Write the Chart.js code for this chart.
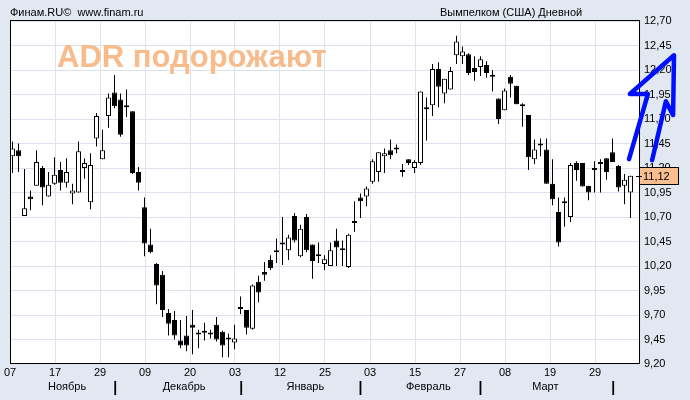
<!DOCTYPE html>
<html lang="ru">
<head>
  <meta charset="UTF-8" />
  <title>Вымпелком (США) Дневной</title>

  <!-- Chart.js -->
  <script src="https://cdn.jsdelivr.net/npm/chart.js"></script>

  <style>
    html, body {
      margin: 0;
      padding: 0;
      background-color: #e1e8f2;
    }
  </style>
</head>
<body>
  <canvas id="candleChart" width="690" height="400"></canvas>

  <script>
    // =========================================================================
    // Data: daily candles (open / high / low / close), one entry per session
    // =========================================================================
    const opens = [
      11.32, 11.38, 10.71, 10.91, 11.02, 11.20, 10.91, 11.04, 11.18, 11.05,
      10.94, 10.95, 11.20, 10.85, 11.50, 11.29, 11.73, 11.97, 11.90, 11.83,
      11.78, 11.16, 10.80, 10.42, 10.22, 10.11, 9.72, 9.65, 9.44, 9.49,
      9.60, 9.50, 9.53, 9.51, 9.60, 9.53, 9.46, 9.42, 9.76, 9.75,
      9.56, 10.04, 10.14, 10.26, 10.35, 10.44, 10.36, 10.71, 10.30, 10.70,
      10.42, 10.32, 10.22, 10.20, 10.46, 10.36, 10.19, 10.64, 10.90, 10.91,
      11.06, 11.16, 11.32, 11.38, 11.39, 11.16, 11.29, 11.20, 11.25, 11.81,
      11.84, 12.21, 11.96, 12.00, 12.35, 12.34, 12.36, 12.22, 12.23, 12.25,
      12.13, 11.91, 11.79, 12.13, 12.04, 11.85, 11.74, 11.29, 11.45, 11.39,
      11.04, 10.75, 10.84, 10.70, 11.25, 11.25, 11.02, 11.18, 11.24, 11.30,
      11.36, 11.22, 11.02, 10.95
    ];
    const highs = [
      11.47, 11.45, 11.19, 10.97, 11.38, 11.22, 11.16, 11.31, 11.26, 11.30,
      11.04, 11.47, 11.30, 11.35, 11.76, 11.59, 11.96, 12.15, 11.96, 12.00,
      11.78, 11.21, 10.90, 10.58, 10.23, 10.15, 9.76, 9.74, 9.65, 9.69,
      9.75, 9.55, 9.62, 9.55, 9.68, 9.54, 9.51, 9.60, 9.89, 9.75,
      10.01, 10.10, 10.24, 10.31, 10.48, 10.70, 10.52, 10.74, 10.62, 10.73,
      10.42, 10.44, 10.31, 10.44, 10.58, 10.46, 10.53, 10.86, 10.94, 11.01,
      11.29, 11.36, 11.40, 11.49, 11.44, 11.24, 11.29, 11.28, 11.98, 11.92,
      12.26, 12.28, 12.11, 12.23, 12.55, 12.44, 12.37, 12.34, 12.34, 12.29,
      12.20, 11.91, 12.01, 12.15, 12.04, 11.86, 11.74, 11.49, 11.50, 11.50,
      11.29, 10.90, 10.90, 11.25, 11.27, 11.25, 11.02, 11.27, 11.29, 11.30,
      11.50, 11.23, 11.14, 11.12
    ];
    const lows = [
      11.15, 11.16, 10.71, 10.77, 11.02, 10.82, 10.91, 11.03, 10.97, 11.00,
      10.83, 10.95, 11.09, 10.78, 11.42, 11.29, 11.61, 11.81, 11.52, 11.72,
      11.14, 10.97, 10.30, 10.33, 9.81, 9.68, 9.49, 9.45, 9.36, 9.33,
      9.30, 9.36, 9.44, 9.46, 9.43, 9.27, 9.27, 9.35, 9.71, 9.50,
      9.55, 9.83, 10.05, 10.16, 10.23, 10.21, 10.26, 10.44, 10.29, 10.34,
      10.07, 10.23, 10.16, 10.20, 10.20, 10.20, 10.18, 10.55, 10.69, 10.81,
      11.04, 11.06, 11.15, 11.29, 11.35, 11.11, 11.23, 11.15, 11.23, 11.48,
      11.73, 11.82, 11.86, 12.00, 12.26, 12.26, 12.15, 12.09, 12.14, 12.12,
      11.98, 11.65, 11.79, 11.92, 11.85, 11.62, 11.18, 11.24, 11.32, 11.04,
      10.82, 10.40, 10.60, 10.65, 11.07, 11.01, 10.87, 10.95, 10.95, 11.08,
      11.26, 10.96, 10.83, 10.69
    ];
    const closes = [
      11.40, 11.32, 10.79, 10.88, 11.26, 11.00, 11.03, 11.13, 11.05, 11.16,
      10.97, 11.37, 11.25, 11.23, 11.73, 11.38, 11.92, 11.83, 11.54, 11.82,
      11.15, 11.05, 10.43, 10.34, 10.00, 9.75, 9.61, 9.49, 9.39, 9.39,
      9.57, 9.50, 9.52, 9.50, 9.45, 9.39, 9.45, 9.46, 9.78, 9.57,
      10.00, 9.93, 10.11, 10.18, 10.34, 10.42, 10.49, 10.46, 10.58, 10.36,
      10.25, 10.30, 10.27, 10.36, 10.39, 10.36, 10.52, 10.66, 10.86, 10.99,
      11.27, 11.36, 11.35, 11.33, 11.39, 11.16, 11.25, 11.26, 11.98, 11.80,
      12.21, 12.03, 12.11, 12.19, 12.49, 12.39, 12.17, 12.18, 12.31, 12.17,
      12.13, 11.70, 11.99, 12.06, 11.85, 11.83, 11.31, 11.39, 11.43, 11.04,
      10.88, 10.44, 10.86, 11.23, 11.18, 11.01, 10.95, 11.20, 11.26, 11.16,
      11.26, 11.00, 11.08, 11.12
    ];

    // Date labels under the vertical grid lines
    const dateLabels = ['07', '17', '29', '09', '20', '03', '12', '25', '03', '15', '27', '08', '19', '29'];

    // Month row (positions in candle-index units)
    const monthLabels  = ['Ноябрь', 'Декабрь', 'Январь', 'Февраль', 'Март'];
    const monthCenters = [9.1, 28.6, 48.8, 69.3, 88.8];
    const monthBreaks  = [17.1, 38.1, 58.0, 78.0, 100.1];

    // Hand-drawn blue arrow, [candle index, price]
    const arrowPoints = [
      [102.75, 11.29], [105.9, 11.955], [102.9, 11.955], [110.25, 12.35],
      [110.1, 11.74], [108.9, 11.88], [106.6, 11.28]
    ];

    // =========================================================================
    // Layout constants
    // =========================================================================
    const X_MIN = -2.5 / 6;        // first candle sits 2.5px inside the frame
    const X_MAX = X_MIN + 105;
    const GRID_STEP = 7.5;         // one vertical grid line every 7.5 sessions
    const FONT = '"Liberation Sans", Arial, sans-serif';
    const GRID_COLOR = '#dde3ee';
    const fmt = v => v.toFixed(2).replace('.', ',');

    const candles = opens.map((o, i) => ({ x: i, y: [o, closes[i]] }));
    const wicks = lows.map((l, i) => ({ x: i, y: [l, highs[i]] }));
    const bodyColors = opens.map((o, i) => (closes[i] > o ? '#ffffff' : '#000000'));

    // =========================================================================
    // Decorations: background, headline, frame, last price box
    // =========================================================================
    const decorPlugin = {
      id: 'decor',
      beforeDraw(chart) {
        const { ctx, chartArea: a } = chart;
        ctx.save();
        ctx.fillStyle = '#e1e8f2';
        ctx.fillRect(0, 0, chart.width, chart.height);
        ctx.fillStyle = '#ffffff';
        ctx.fillRect(a.left, a.top, a.right - a.left, a.bottom - a.top);
        ctx.fillStyle = '#000';
        ctx.font = '11px ' + FONT;
        ctx.textBaseline = 'middle';
        ctx.fillText('Финам.RU©  www.finam.ru', 10, 13);
        ctx.fillText('Вымпелком (США) Дневной', 440, 13);
        ctx.restore();
      },
      beforeDatasetsDraw(chart) {
        const { ctx, chartArea: a } = chart;
        ctx.save();
        ctx.fillStyle = '#f8bb8c';
        ctx.font = 'bold 31px ' + FONT;
        ctx.textBaseline = 'alphabetic';
        ctx.fillText('ADR подорожают', 57, 67);
        ctx.strokeStyle = '#000';
        ctx.lineWidth = 1;
        ctx.strokeRect(a.left + 0.5, a.top - 0.5, a.right - a.left - 1, a.bottom - a.top);
        ctx.restore();
      },
      afterDraw(chart) {
        const { ctx, chartArea: a } = chart;
        const last = closes[closes.length - 1];
        const y = Math.round(chart.scales.y.getPixelForValue(last));
        ctx.save();
        ctx.fillStyle = '#f9bf8f';
        ctx.fillRect(a.right, y - 8, 38, 16);
        ctx.strokeStyle = '#000';
        ctx.lineWidth = 1;
        ctx.strokeRect(a.right - 0.5, y - 8.5, 39, 17);
        ctx.beginPath();
        ctx.moveTo(a.right - 4, y + 0.5);
        ctx.lineTo(a.right + 2, y + 0.5);
        ctx.stroke();
        ctx.fillStyle = '#000';
        ctx.font = '11px ' + FONT;
        ctx.textBaseline = 'middle';
        ctx.fillText(fmt(last), a.right + 3, y + 1);
        ctx.restore();
      }
    };

    // =========================================================================
    // Chart
    // =========================================================================
    new Chart(document.getElementById('candleChart'), {
      type: 'bar',
      data: {
        datasets: [
          {
            type: 'line',
            data: arrowPoints.map(([x, y]) => ({ x, y })),
            borderColor: '#0010ff',
            borderWidth: 4.5,
            borderJoinStyle: 'round',
            borderCapStyle: 'round',
            pointRadius: 0,
            tension: 0,
            fill: false,
            clip: false
          },
          {
            data: candles,
            backgroundColor: bodyColors,
            borderColor: '#000',
            borderWidth: 1,
            borderSkipped: false,
            barThickness: 5,
            minBarLength: 2,
            inflateAmount: 0,
            grouped: false
          },
          {
            data: wicks,
            backgroundColor: '#000',
            borderWidth: 0,
            barThickness: 1,
            inflateAmount: 0,
            grouped: false
          }
        ]
      },
      options: {
        responsive: false,
        animation: false,
        events: [],
        layout: { padding: { left: 10, top: 21, right: 0, bottom: 0 } },
        plugins: {
          legend: { display: false },
          tooltip: { enabled: false }
        },
        scales: {
          x: {
            type: 'linear',
            position: 'bottom',
            weight: 0,
            min: X_MIN,
            max: X_MAX,
            offset: false,
            grid: { color: GRID_COLOR, drawTicks: false, offset: false },
            border: { display: false },
            afterBuildTicks: scale => {
              scale.ticks = [];
              for (let v = X_MIN; v <= X_MAX + 0.01; v += GRID_STEP) scale.ticks.push({ value: v });
            },
            afterFit: scale => { scale.height = 14; },
            ticks: {
              autoSkip: false,
              maxRotation: 0,
              padding: 2,
              color: '#000',
              font: { family: FONT, size: 11 },
              callback: (v, i) => dateLabels[i] || ''
            }
          },
          x2: {
            type: 'linear',
            position: 'bottom',
            weight: 1,
            min: X_MIN,
            max: X_MAX,
            offset: false,
            grid: { display: false, drawTicks: false },
            border: { display: false },
            afterBuildTicks: scale => {
              scale.ticks = monthCenters.concat(monthBreaks).map(v => ({ value: v }));
            },
            afterFit: scale => { scale.height = 22; },
            ticks: {
              autoSkip: false,
              maxRotation: 0,
              padding: 2,
              color: '#000',
              font: ctx => (ctx.index >= monthLabels.length
                ? { family: FONT, size: 14, weight: 'bold' }
                : { family: FONT, size: 11 }),
              callback: (v, i) => (i < monthLabels.length ? monthLabels[i] : '|')
            }
          },
          y: {
            type: 'linear',
            position: 'right',
            min: 9.2,
            max: 12.7,
            beginAtZero: false,
            grid: { color: GRID_COLOR, drawTicks: false },
            border: { display: false },
            afterFit: scale => { scale.width = 50; },
            ticks: {
              stepSize: 0.25,
              padding: 4,
              color: '#000',
              font: { family: FONT, size: 11 },
              callback: v => fmt(v)
            }
          }
        }
      },
      plugins: [decorPlugin]
    });
  </script>
</body>
</html>
